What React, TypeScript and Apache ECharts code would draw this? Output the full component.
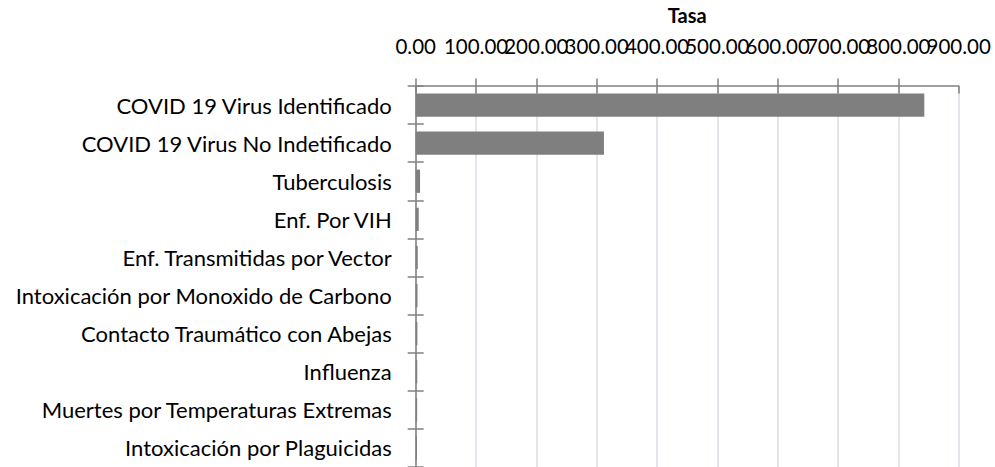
import React, { useEffect, useRef } from "react";
import * as echarts from "echarts";

const categories = [
  "COVID 19 Virus Identificado",
  "COVID 19 Virus No Indetificado",
  "Tuberculosis",
  "Enf. Por VIH",
  "Enf. Transmitidas por Vector",
  "Intoxicación por Monoxido de Carbono",
  "Contacto Traumático con Abejas",
  "Influenza",
  "Muertes por Temperaturas Extremas",
  "Intoxicación por Plaguicidas",
];
const tasa = [843, 312, 7.2, 5.0, 3.4, 3.0, 2.8, 2.6, 2.4, 2.2];
const axisMin = 0;
const axisMax = 900;
const axisStep = 100;
const axisTitle = "Tasa";

const FONT = "Lato";

export default function App() {
  const ref = useRef<HTMLDivElement>(null);
  useEffect(() => {
    document.body.style.margin = "0";
    document.body.style.overflow = "hidden";
    const chart = echarts.init(ref.current!, null, { renderer: "svg" });
    const gridTop = 78.6;
    const labelBase = {
      margin: 30,
      fontFamily: FONT,
      fontSize: 20.5,
      color: "#000",
      hideOverlap: false,
    };
    const hiddenAxis = {
      type: "value",
      position: "top",
      min: axisMin,
      max: axisMax,
      interval: axisStep,
      axisLine: { show: false },
      axisTick: { show: false },
      splitLine: { show: false },
    };
    chart.setOption({
      animation: false,
      backgroundColor: "#ffffff",
      grid: { left: 415.7, top: gridTop, width: 543, height: 393, containLabel: false },
      xAxis: [
        {
          type: "value",
          position: "top",
          min: axisMin,
          max: axisMax,
          interval: axisStep,
          name: axisTitle,
          nameLocation: "middle",
          nameGap: 61,
          nameTextStyle: { fontFamily: FONT, fontSize: 20, fontWeight: "bold", color: "#000" },
          axisLine: { show: true, lineStyle: { color: "#808080", width: 1.5 } },
          axisTick: { show: true, inside: false, length: 7.5, lineStyle: { color: "#808080", width: 1.5 } },
          axisLabel: {
            ...labelBase,
            showMinLabel: true,
            showMaxLabel: false,
            formatter: (v: number) => (v >= axisMax ? "" : v.toFixed(2)),
          },
          splitLine: { show: true, lineStyle: { color: "#d9dfe8", width: 1.5 } },
        },
        {
          type: "value",
          position: "top",
          min: axisMin,
          max: axisMax,
          interval: axisStep,
          axisLine: { show: false },
          axisTick: { show: true, inside: true, length: 7.5, lineStyle: { color: "#808080", width: 1.5 } },
          axisLabel: { show: false },
          splitLine: { show: false },
        },
        {
          ...hiddenAxis,
          axisLabel: {
            ...labelBase,
            showMinLabel: false,
            showMaxLabel: true,
            formatter: (v: number) => (v >= axisMax ? v.toFixed(2) : ""),
          },
        },
      ],
      yAxis: [
        {
          type: "category",
          data: categories,
          inverse: true,
          position: "left",
          axisLine: { show: true, lineStyle: { color: "#808080", width: 1.5 } },
          axisTick: { show: true, inside: false, length: 8, lineStyle: { color: "#808080", width: 1.5 } },
          axisLabel: { margin: 24, fontFamily: FONT, fontSize: 22, color: "#000" },
          splitLine: { show: false },
        },
        {
          type: "category",
          data: categories,
          inverse: true,
          position: "left",
          axisLine: { show: false },
          axisTick: { show: true, inside: true, length: 8, lineStyle: { color: "#808080", width: 1.5 } },
          axisLabel: { show: false },
          splitLine: { show: false },
        },
      ],
      series: [
        {
          type: "bar",
          data: tasa,
          xAxisIndex: 0,
          yAxisIndex: 0,
          barWidth: "61%",
          itemStyle: { color: "#7f7f7f" },
          z: 1,
        },
      ],
    });
    return () => chart.dispose();
  }, []);
  return <div ref={ref} style={{ width: 995, height: 467 }} />;
}
